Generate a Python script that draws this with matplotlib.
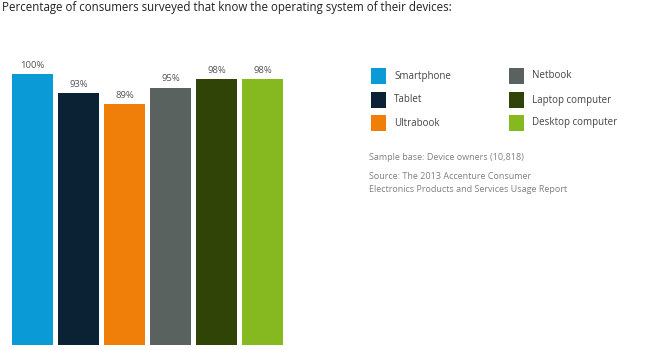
import matplotlib.pyplot as plt
from matplotlib.patches import Rectangle

plt.rcParams['font.family'] = ['Open Sans', 'DejaVu Sans']

devices = ['Smartphone', 'Tablet', 'Ultrabook', 'Netbook', 'Laptop computer', 'Desktop computer']
share = [100, 93, 89, 95, 98, 98]
colors = ['#0a9ad6', '#0b2234', '#f07f09', '#59625f', '#2f4406', '#86b81f']

fig = plt.figure(figsize=(6.53, 3.5), dpi=100)

# bar axes placed in pixels: bars span x 12..283, baseline y=345, 100% at y=74
ax = fig.add_axes([12 / 653, 5 / 350, 271 / 653, 271 / 350])
w = 41 / 46
xs = range(len(share))
ax.bar(xs, share, width=w, color=colors)
ax.set_xlim(-w / 2, len(share) - 1 + w / 2)
ax.set_ylim(0, 100)
ax.axis('off')
for x, v in zip(xs, share):
    ax.text(x, v + 1.5, f'{v}%', ha='center', va='bottom', fontsize=6.8,
            color='#555555', clip_on=False)

fig.text(2 / 653, 1 - 8 / 350, 'Percentage of consumers surveyed that know the operating system of their devices:',
         fontsize=8.3, color='#222222', va='center', ha='left')

# legend drawn in figure pixels
def px(x, y):
    return x / 653, 1 - y / 350

legend_pos = [(371, 76), (371, 100), (371, 123), (509, 76), (509, 100), (509, 123)]
for (lx, ly), name, c in zip(legend_pos, devices, colors):
    x0, y0 = px(lx, ly + 8)
    fig.patches.append(Rectangle((x0, y0), 15 / 653, 16 / 350, transform=fig.transFigure,
                                 facecolor=c, edgecolor='none'))
    tx, ty = px(lx + 23, ly)
    fig.text(tx, ty, name, fontsize=7, color='#444444', va='center', ha='left')

fig.text(*px(369, 157), 'Sample base: Device owners (10,818)', fontsize=6.5,
         color='#808080', va='center', ha='left')
fig.text(*px(369, 177), 'Source: The 2013 Accenture Consumer', fontsize=6.5,
         color='#808080', va='center', ha='left')
fig.text(*px(369, 189), 'Electronics Products and Services Usage Report', fontsize=6.5,
         color='#808080', va='center', ha='left')

fig.savefig('out.png', dpi=100)
